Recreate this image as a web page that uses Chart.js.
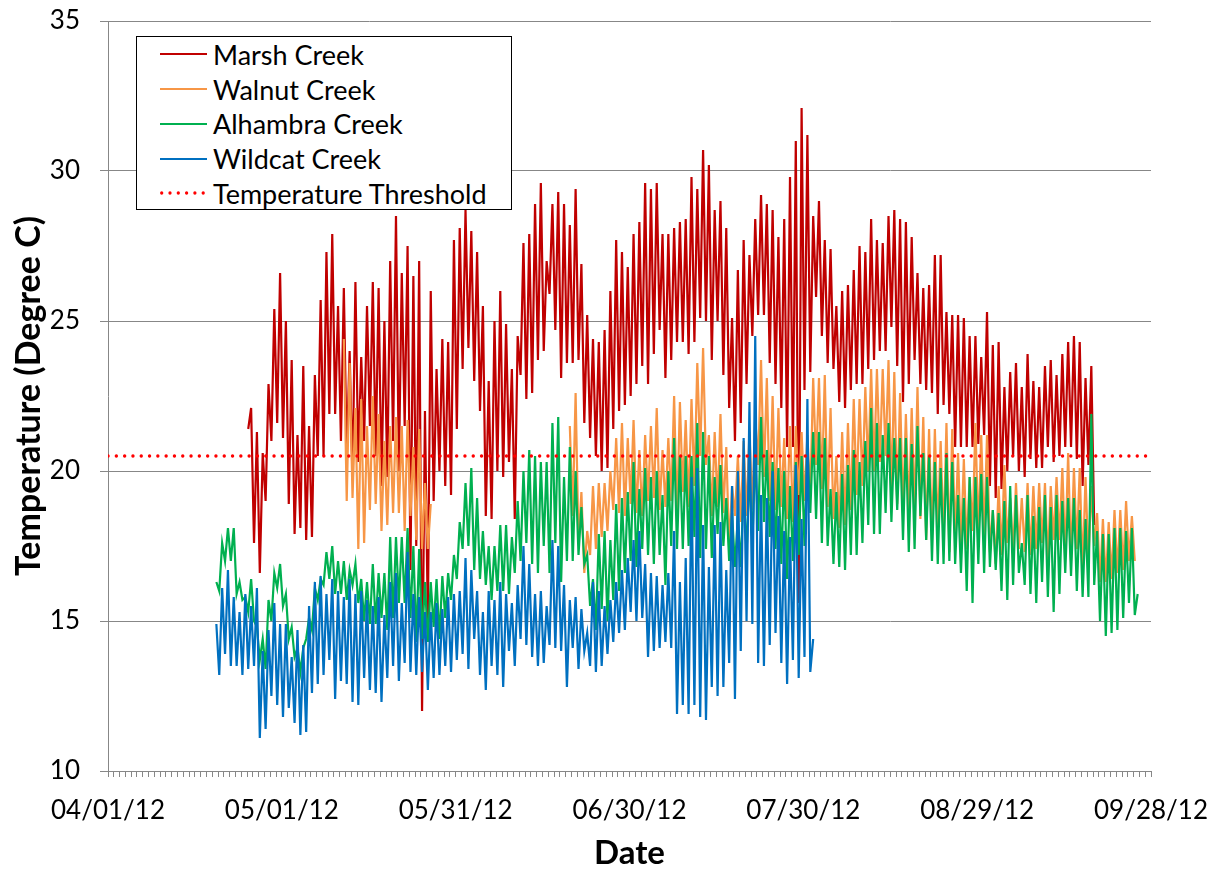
<!DOCTYPE html>
<html>
<head>
<meta charset="utf-8">
<title>Creek Temperatures 2012</title>
<script src="https://cdn.jsdelivr.net/npm/chart.js"></script>
<style>
    html, body { margin: 0; padding: 0; background: #fff; }
    #wrap { position: relative; width: 1218px; height: 874px; }
    #legend {
        position: absolute; left: 136px; top: 36px;
        width: 374px; height: 172px; overflow: hidden;
        border: 1px solid #000; background: #fff;
        font-family: Lato, sans-serif; font-size: 27px; color: #000;
    }
    #legend .row { height: 34.75px; display: flex; align-items: center; white-space: nowrap; }
    #legend svg { margin-left: 23px; margin-right: 6px; flex: none; }
</style>
</head>
<body>
<div id="wrap">
    <canvas id="tempChart" width="1218" height="874"></canvas>
    <div id="legend"></div>
</div>
<script>
// Giorni dal 1 aprile 2012 (giorno 0) per le etichette dell'asse x
const labelDays = [0, 30, 60, 90, 120, 150, 180];
const dateLabels = ['04/01/12', '05/01/12', '05/31/12', '06/30/12', '07/30/12', '08/29/12', '09/28/12'];

const thresholdValue = 20.5;

// Letture giornaliere: AM = minimo del mattino, PM = massimo del pomeriggio
const marshStart = 24;
const marshAM = [
    21.4, 17.6, 16.6, 19.0, 21.0, 21.6, 21.1, 18.9, 17.9, 18.1,
    17.7, 17.8, 20.5, 20.5, 21.9, 21.9, 21.0, 20.5, 19.7, 20.3,
    21.0, 21.5, 20.5, 19.5, 19.8, 21.0, 20.0, 21.5, 16.7, 17.5,
    12.0, 15.0, 19.0, 20.0, 19.5, 19.2, 21.4, 23.4, 24.1, 23.0,
    22.0, 18.5, 18.4, 20.0, 19.8, 20.3, 18.4, 23.2, 22.4, 22.6,
    23.7, 24.0, 25.9, 24.7, 23.1, 23.6, 23.6, 23.7, 21.6, 21.1,
    20.5, 20.0, 20.1, 21.4, 22.0, 22.2, 22.5, 22.9, 23.5, 22.9,
    23.9, 24.7, 23.1, 23.7, 24.3, 24.3, 23.9, 24.3, 25.1, 25.0,
    23.7, 25.0, 23.2, 22.1, 21.0, 21.6, 22.9, 24.5, 25.2, 25.2,
    23.6, 22.9, 22.1, 20.8, 20.8, 15.6, 22.7, 23.3, 25.8, 24.5,
    23.6, 23.4, 22.3, 22.1, 22.7, 22.9, 22.9, 23.4, 23.7, 24.0,
    24.0, 24.8, 23.5, 22.3, 22.9, 23.7, 22.9, 22.7, 22.6, 21.9,
    22.2, 21.9, 20.8, 20.8, 20.8, 20.8, 20.9, 21.2, 19.5, 19.1,
    19.4, 20.0, 20.5, 20.0, 19.8, 20.4, 20.1, 20.1, 20.8, 20.3,
    20.5, 20.8, 20.8, 20.4, 19.5, 20.2, 18.2
];
const marshPM = [
    22.1, 21.3, 20.6, 22.9, 25.4, 26.6, 25.0, 23.7, 21.2, 23.5,
    21.5, 23.2, 25.7, 27.3, 27.9, 25.5, 26.1, 24.0, 26.3, 23.8,
    25.5, 26.3, 26.1, 25.0, 27.0, 28.5, 26.6, 27.5, 26.5, 27.0,
    22.0, 26.0, 23.4, 24.4, 24.3, 27.7, 28.1, 28.7, 28.0, 27.3,
    25.5, 23.0, 25.0, 26.0, 24.9, 23.4, 24.5, 27.6, 27.9, 28.9,
    29.6, 27.0, 28.9, 29.3, 28.9, 28.2, 29.4, 26.9, 25.2, 24.4,
    24.3, 24.7, 26.0, 27.7, 27.3, 26.8, 27.9, 28.3, 29.6, 29.4,
    29.6, 27.9, 27.9, 28.1, 28.3, 28.4, 29.8, 29.4, 30.7, 30.2,
    28.7, 29.0, 28.1, 25.1, 26.7, 27.7, 27.2, 28.4, 29.2, 28.9,
    28.7, 27.8, 28.4, 29.8, 31.0, 32.1, 31.2, 28.5, 29.0, 27.7,
    27.4, 25.5, 26.0, 26.2, 26.7, 27.5, 27.3, 28.4, 27.7, 27.6,
    28.5, 28.7, 28.4, 28.3, 27.8, 26.6, 26.1, 26.2, 27.2, 27.2,
    25.3, 25.2, 25.2, 25.1, 24.5, 24.5, 23.8, 25.3, 24.2, 24.3,
    22.8, 23.3, 23.6, 22.8, 23.9, 23.0, 22.8, 23.5, 23.7, 23.2,
    23.9, 24.3, 24.5, 24.3, 23.1, 23.5, null
];

const walnutStart = 40;
const walnutAM = [
    null, 19.0, 19.1, 17.4, 17.6, 18.7, 18.9, 18.0, 18.2, 18.6,
    18.6, 18.0, 18.5, 17.7, 17.4, 17.4, null, null, null, null,
    null, null, null, null, null, null, null, null, null, null,
    null, null, null, null, null, null, null, null, null, null,
    18.5, 17.6, 16.6, 17.2, 17.4, 17.8, 18.0, 18.7, 18.6, 18.5,
    18.9, 18.6, 18.5, 19.0, 19.1, 18.7, 18.8, 19.0, 18.4, 19.3,
    18.8, 19.5, 20.5, 20.2, 18.5, 18.8, 18.6, 17.4, 18.5, 18.3,
    18.5, 18.7, 20.2, 19.8, 19.0, 18.7, 18.8, 18.4, 18.3, 19.2,
    19.0, 19.2, 20.2, 19.4, 18.8, 18.4, 18.1, 18.2, 18.7, 19.2,
    19.5, 20.0, 20.0, 20.3, 20.5, 19.2, 18.9, 18.6, 18.5, 18.6,
    18.4, 17.7, 17.7, 18.0, 17.7, 17.3, 17.7, 17.4, 17.4, 18.0,
    17.8, 17.8, 17.3, 16.9, 17.2, 17.6, 17.2, 17.4, 17.3, 17.2,
    17.4, 17.6, 17.0, 17.7, 17.7, 17.2, 17.0, 17.4, 16.6, 17.0,
    17.5, 16.3, 16.3, 16.4, 16.6, 16.7, 17.0, 17.0
];
const walnutPM = [
    24.4, 23.6, 22.1, 22.4, 21.5, 22.5, 21.9, 21.0, 21.5, 21.8,
    21.5, 21.7, 20.8, 21.4, 19.6, 18.9, null, null, null, null,
    null, null, null, null, null, null, null, null, null, null,
    null, null, null, null, null, null, null, null, null, 21.5,
    22.6, 19.3, 18.0, 19.5, 19.6, 19.6, 20.0, 21.1, 21.6, 21.1,
    21.7, 20.7, 21.2, 21.5, 22.1, 20.7, 21.1, 22.5, 22.3, 21.7,
    22.4, 23.6, 24.1, 21.2, 21.3, 21.9, 20.8, 19.5, 20.5, 21.0,
    21.3, 21.8, 23.7, 23.1, 22.5, 22.1, 21.1, 21.5, 21.5, 21.3,
    21.2, 23.1, 23.1, 23.2, 22.1, 20.5, 21.3, 21.6, 22.4, 22.4,
    22.8, 23.4, 23.4, 23.4, 23.7, 23.3, 22.6, 21.9, 22.1, 22.8,
    21.8, 21.4, 21.4, 21.0, 21.6, 21.4, 20.6, 20.4, 19.8, 21.6,
    21.2, 21.2, 18.7, 19.5, 20.2, 19.1, 19.6, 19.1, 19.6, 19.5,
    19.6, 19.6, 19.5, 19.8, 20.1, 20.6, 20.1, 20.1, 19.8, 19.5,
    18.6, 18.4, 18.3, 18.7, 18.7, 19.0, 18.5, null
];

const alhambraStart = 18;
const alhambraAM = [
    null, 16.0, 17.0, 17.0, 15.9, 15.7, 15.3, 15.0, 13.7, 13.4,
    15.0, 16.1, 15.5, 14.4, 13.8, 13.3, 14.4, 14.7, 15.7, 16.2,
    16.4, 15.9, 15.9, 15.7, 16.2, 15.6, 15.0, 14.9, 14.9, 15.1,
    14.7, 15.1, 15.6, 15.6, 15.1, 14.3, 14.4, 14.3, 14.8, 14.4,
    15.1, 15.7, 16.4, 17.4, 17.5, 16.7, 16.4, 16.2, 15.7, 16.0,
    16.0, 15.9, 16.6, 17.0, 17.6, 16.9, 16.6, 17.5, 16.6, 17.6,
    16.3, 17.0, 17.0, 17.2, 16.9, 15.5, 14.7, 15.4, 15.0, 15.7,
    16.0, 16.6, 17.0, 16.8, 17.4, 17.2, 16.9, 17.2, 16.2, 17.5,
    17.4, 17.4, 17.5, 17.8, 17.1, 17.4, 17.1, 17.9, 17.5, 17.0,
    16.8, 16.8, 17.2, 17.6, 18.0, 18.3, 17.8, 17.4, 16.9, 16.4,
    17.0, 17.2, 17.5, 18.6, 18.4, 17.6, 17.5, 16.9, 16.8, 16.7,
    17.2, 17.2, 17.6, 18.2, 17.9, 17.9, 18.6, 18.3, 18.7, 17.7,
    17.3, 17.4, 18.5, 17.7, 17.0, 16.9, 16.9, 17.0, 16.9, 16.6,
    16.0, 15.6, 16.9, 16.6, 16.8, 16.7, 16.0, 15.7, 16.2, 16.6,
    16.2, 15.9, 15.6, 16.3, 15.8, 15.3, 15.9, 16.6, 16.5, 16.0,
    15.8, 15.8, 16.2, 15.0, 14.5, 14.6, 14.7, 15.1, 15.6, 15.2
];
const alhambraPM = [
    16.3, 17.6, 18.1, 18.1, 16.3, 15.8, 16.4, 14.8, 14.4, 15.7,
    16.6, 16.9, 15.9, 14.8, 14.1, 14.1, 15.1, 16.1, 16.4, 17.3,
    17.5, 17.0, 17.0, 16.7, 16.9, 16.4, 16.3, 16.9, 16.6, 16.6,
    17.8, 17.8, 17.8, 18.1, 17.5, 17.4, 16.3, 16.3, 16.4, 16.5,
    16.6, 17.2, 18.3, 19.6, 20.1, 19.1, 18.0, 17.5, 17.5, 18.2,
    18.2, 17.8, 19.0, 20.0, 20.7, 20.5, 20.3, 20.3, 21.6, 21.8,
    19.8, 20.8, 20.0, 18.8, 17.2, 16.4, 17.9, 18.0, 17.7, 18.9,
    19.1, 19.3, 20.3, 19.4, 20.1, 19.8, 20.0, 19.2, 20.0, 21.1,
    20.5, 20.5, 20.5, 21.6, 21.3, 20.5, 19.8, 20.2, 19.1, 18.6,
    18.5, 19.5, 20.0, 20.5, 21.8, 20.7, 20.3, 20.1, 20.0, 19.5,
    20.3, 20.5, 20.8, 21.3, 21.3, 21.1, 19.4, 19.3, 19.9, 20.2,
    20.7, 20.3, 21.0, 22.1, 21.6, 21.2, 21.6, 21.1, 21.1, 21.1,
    20.9, 21.5, 20.6, 20.5, 20.3, 20.1, 20.6, 20.3, 19.2, 19.1,
    19.8, 19.8, 19.9, 19.8, 18.7, 18.6, 19.0, 19.5, 19.2, 17.6,
    19.2, 18.5, 18.8, 19.2, 18.8, 19.2, 19.0, 19.1, 19.1, 18.7,
    18.4, 21.9, 18.0, 17.9, 17.9, 18.1, 18.1, 18.0, 18.1, 15.9
];

const wildcatStart = 18;
const wildcatAM = [
    null, 13.2, 13.9, 13.5, 13.5, 13.2, 13.4, 13.5, 11.1, 11.4,
    12.5, 12.2, 11.8, 12.1, 11.6, 11.2, 11.3, 12.6, 12.9, 13.2,
    13.7, 12.4, 13.0, 12.9, 12.3, 12.2, 13.1, 12.7, 12.6, 12.3,
    13.1, 13.5, 13.0, 13.6, 13.3, 13.2, 13.3, 12.7, 13.1, 13.2,
    13.5, 13.3, 13.7, 13.9, 13.4, 14.4, 13.2, 12.7, 13.5, 13.2,
    12.8, 14.0, 13.5, 14.4, 14.2, 13.8, 13.5, 13.6, 14.2, 14.1,
    14.0, 12.8, 14.1, 13.4, 14.0, 13.5, 13.3, 13.5, 13.9, 14.3,
    14.6, 14.7, 15.3, 15.0, 15.1, 13.8, 14.0, 14.1, 14.3, 14.1,
    11.9, 12.2, 11.9, 12.2, 11.8, 11.7, 12.8, 12.5, 12.8, 13.6,
    12.4, 14.0, 15.0, 14.9, 13.6, 13.5, 14.2, 14.6, 13.6, 12.9,
    13.7, 13.1, 13.8, 13.3
];
const wildcatPM = [
    14.9, 16.1, 16.7, 15.8, 15.3, 15.9, 15.5, 16.1, 14.0, 14.7,
    15.6, 14.9, 14.9, 13.8, 14.7, 14.2, 15.5, 16.3, 16.5, 15.9,
    16.4, 16.0, 15.8, 16.4, 15.9, 16.0, 15.7, 15.5, 15.8, 15.2,
    16.3, 16.6, 15.6, 17.3, 15.9, 15.8, 15.3, 15.3, 15.6, 15.4,
    15.8, 15.9, 16.0, 17.1, 16.7, 16.0, 15.3, 16.0, 15.7, 16.3,
    15.9, 15.6, 16.2, 17.5, 16.9, 15.9, 16.0, 15.5, 17.7, 17.5,
    16.2, 15.7, 15.8, 15.4, 14.6, 16.3, 16.0, 15.5, 15.7, 16.3,
    16.7, 17.1, 17.7, 18.0, 16.9, 16.6, 16.5, 16.2, 16.6, 18.0,
    16.3, 17.1, 19.8, 20.1, 18.2, 16.8, 18.2, 18.3, 16.7, 19.5,
    20.0, 21.1, 22.3, 24.5, 19.2, 19.1, 20.0, 18.5, 18.0, 17.8,
    20.2, 18.4, 22.4, 14.4
];

document.addEventListener('DOMContentLoaded', () => {

    Chart.defaults.font.family = 'Lato, sans-serif';
    Chart.defaults.color = '#000';

    // Due letture al giorno: mattino (giorno + 0.2) e pomeriggio (giorno + 0.7)
    function dailyPoints(start, am, pm) {
        const pts = [];
        am.forEach((v, i) => {
            pts.push({ x: start + i + 0.2, y: v });
            pts.push({ x: start + i + 0.7, y: pm[i] });
        });
        return pts;
    }

    const series = [
        { label: 'Marsh Creek', color: '#C00000', data: dailyPoints(marshStart, marshAM, marshPM) },
        { label: 'Walnut Creek', color: '#F79646', data: dailyPoints(walnutStart, walnutAM, walnutPM) },
        { label: 'Alhambra Creek', color: '#00B050', data: dailyPoints(alhambraStart, alhambraAM, alhambraPM) },
        { label: 'Wildcat Creek', color: '#0070C0', data: dailyPoints(wildcatStart, wildcatAM, wildcatPM) }
    ];

    const datasets = series.map((s, i) => ({
        label: s.label,
        data: s.data,
        borderColor: s.color,
        backgroundColor: s.color,
        borderWidth: 2.2,
        pointRadius: 0,
        tension: 0,
        spanGaps: false,
        order: 5 - i
    }));

    datasets.push({
        label: 'Temperature Threshold',
        data: [
            { x: labelDays[0], y: thresholdValue },
            { x: labelDays[labelDays.length - 1], y: thresholdValue }
        ],
        borderColor: '#FF0000',
        backgroundColor: '#FF0000',
        borderWidth: 3.3,
        borderDash: [0.1, 8.2],
        borderCapStyle: 'round',
        pointRadius: 0,
        order: 0
    });

    const gridGray = '#878787';

    new Chart(document.getElementById('tempChart'), {
        type: 'line',
        data: { datasets: datasets },
        options: {
            responsive: false,
            animation: false,
            layout: { padding: { top: 21, right: 67, bottom: 0, left: 0 } },
            plugins: {
                legend: { display: false },
                tooltip: { enabled: false }
            },
            scales: {
                x: {
                    type: 'linear',
                    min: labelDays[0],
                    max: labelDays[labelDays.length - 1],
                    ticks: {
                        stepSize: 1,
                        autoSkip: false,
                        maxRotation: 0,
                        minRotation: 0,
                        padding: 18,
                        font: { size: 26 },
                        callback: (v) => {
                            const k = labelDays.indexOf(v);
                            return k >= 0 ? dateLabels[k] : '';
                        }
                    },
                    grid: { drawOnChartArea: false, tickLength: 6, color: gridGray },
                    border: { color: gridGray },
                    title: {
                        display: true,
                        text: 'Date',
                        font: { size: 33, weight: 'bold' },
                        padding: { top: 0, bottom: 1 }
                    },
                    // altezza fissa dell'asse, senza margini extra per le etichette
                    afterFit: (scale) => {
                        scale.height = 103;
                        scale.paddingLeft = 0;
                        scale.paddingRight = 0;
                    }
                },
                y: {
                    min: 10,
                    max: 35,
                    ticks: { stepSize: 5, padding: 20, font: { size: 26 } },
                    grid: { color: gridGray, tickLength: 8 },
                    border: { color: gridGray },
                    title: {
                        display: true,
                        text: 'Temperature (Degree C)',
                        font: { size: 34, weight: 'bold' },
                        padding: { top: 9, bottom: 0 }
                    },
                    afterFit: (scale) => {
                        scale.width = 108;
                        scale.paddingTop = 0;
                        scale.paddingBottom = 0;
                    }
                }
            }
        }
    });

    // Legenda in un riquadro dentro l'area del grafico
    const legend = document.getElementById('legend');
    datasets.forEach((ds) => {
        const row = document.createElement('div');
        row.className = 'row';
        const dotted = ds.borderDash && ds.borderDash.length;
        row.innerHTML =
            '<svg width="47" height="8"><line x1="' + (dotted ? 1.7 : 0) + '" y1="4" x2="47" y2="4" stroke="' +
            ds.borderColor + '" stroke-width="' + (dotted ? 3.3 : 2) + '"' +
            (dotted ? ' stroke-dasharray="0 8.3" stroke-linecap="round"' : '') + '/></svg>';
        const span = document.createElement('span');
        span.textContent = ds.label;
        row.appendChild(span);
        legend.appendChild(row);
    });
});
</script>
</body>
</html>
